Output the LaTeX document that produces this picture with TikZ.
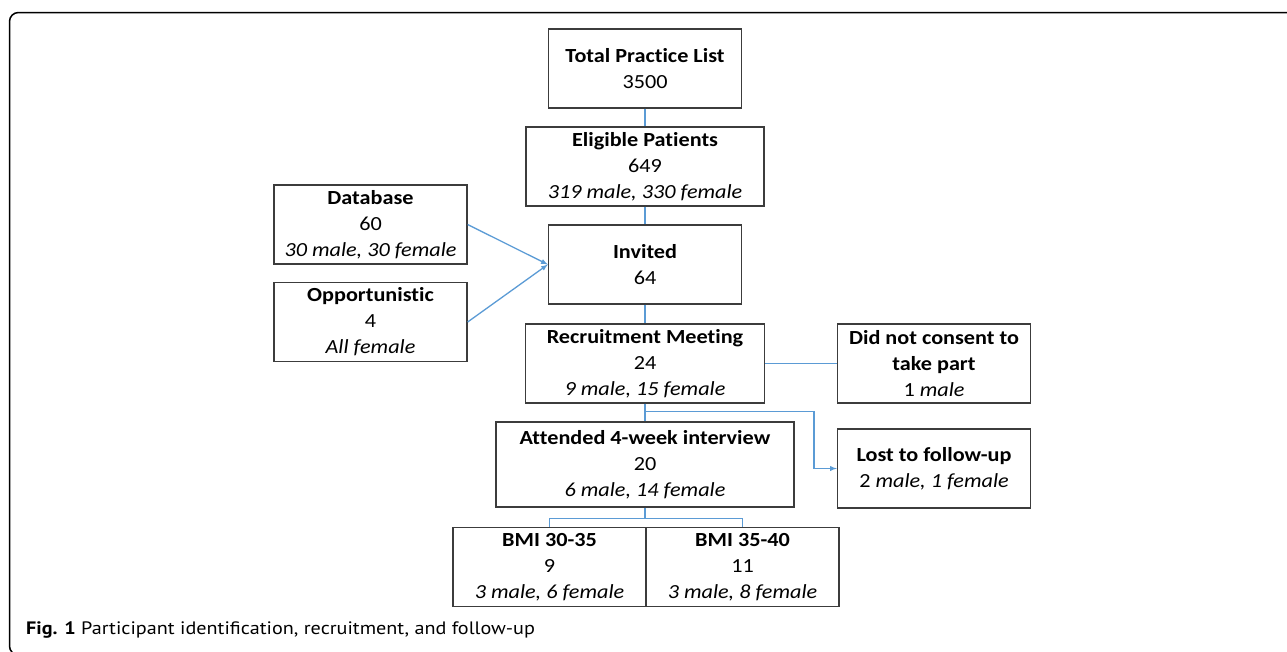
\documentclass[tikz,border=0pt]{standalone}
\usepackage{fontspec}
\setmainfont{Carlito}[Ligatures=NoCommon, FakeStretch=1.11]
\newfontfamily\captionfont{PT Sans}[FakeStretch=1.12]
\usetikzlibrary{positioning, arrows}

\definecolor{linkblue}{HTML}{5B9BD5}
\definecolor{boxgray}{HTML}{3C3C3C}

\tikzset{
  box/.style={draw=boxgray, line width=1.3pt, minimum width=193pt, minimum height=79pt,
    inner sep=0pt, align=center, font=\fontsize{20}{26}\selectfont},
  link/.style={draw=linkblue, line width=1.3pt},
}

\begin{document}
\begin{tikzpicture}[x=1pt, y=1pt, node distance=98pt, on grid, >=latex]
    \useasboundingbox (0,0) rectangle (1287,-651);

    % frame
    \draw[line width=1.5pt, rounded corners=9pt] (1295,-12.5) -- (9.5,-12.5) -- (9.5,-655) -- (40,-655);

    \node[box] (tpl) at (645,-68.5) {\textbf{Total Practice List}\\3500};
    \node[box, minimum width=238pt] (ep) [below=of tpl] {\textbf{Eligible Patients}\\649\\\textit{319 male, 330 female}};
    \node[box] (inv) [below=of ep] {\textbf{Invited}\\64};
    \node[box] (db) [above left=40pt and 274.5pt of inv] {\textbf{Database}\\60\\\textit{30 male, 30 female}};
    \node[box] (opp) [below=97.5pt of db] {\textbf{Opportunistic}\\4\\\textit{All female}};
    \node[box, minimum width=239pt] (rm) [below=99pt of inv] {\textbf{Recruitment Meeting}\\24\\\textit{9 male, 15 female}};
    \node[box] (dnc) [right=289pt of rm] {\textbf{Did not consent to}\\\textbf{take part}\\1 \textit{male}};
    \node[box, minimum width=298pt, minimum height=85pt] (att) [below=101pt of rm] {\textbf{Attended 4-week interview}\\20\\\textit{6 male, 14 female}};
    \node[box] (lost) [below=105pt of dnc] {\textbf{Lost to follow-up}\\2 \textit{male, 1 female}};
    \node[box] (bmia) [below left=102.5pt and 95.5pt of att] {\textbf{BMI 30-35}\\9\\\textit{3 male, 6 female}};
    \node[box] (bmib) [right=193pt of bmia] {\textbf{BMI 35-40}\\11\\\textit{3 male, 8 female}};

    \coordinate (split) at ([yshift=-8pt]rm.south);
    \coordinate (fork) at ([yshift=-11pt]att.south);

    \path[link]
    (tpl) -- (ep)
    (ep) -- (inv)
    (inv) -- (rm)
    (rm.east) -- (dnc.west)
    (rm.south) -- (att.north)
    (att.south) -- (fork)
    (bmia.north) |- (fork) -| (bmib.north);
    \draw[link, ->] (db.east) -- (inv.west);
    \draw[link, ->] (opp.east) -- (inv.west);
    \draw[link, ->] (split) -- ++(169pt,0) |- (lost.west);

    \node[anchor=base west, inner sep=0pt, font=\captionfont\fontsize{18}{20}\selectfont] (cap) at (26,-634)
      {\textbf{Fig. 1} Participant identification, recruitment, and follow-up};

\end{tikzpicture}
\end{document}
